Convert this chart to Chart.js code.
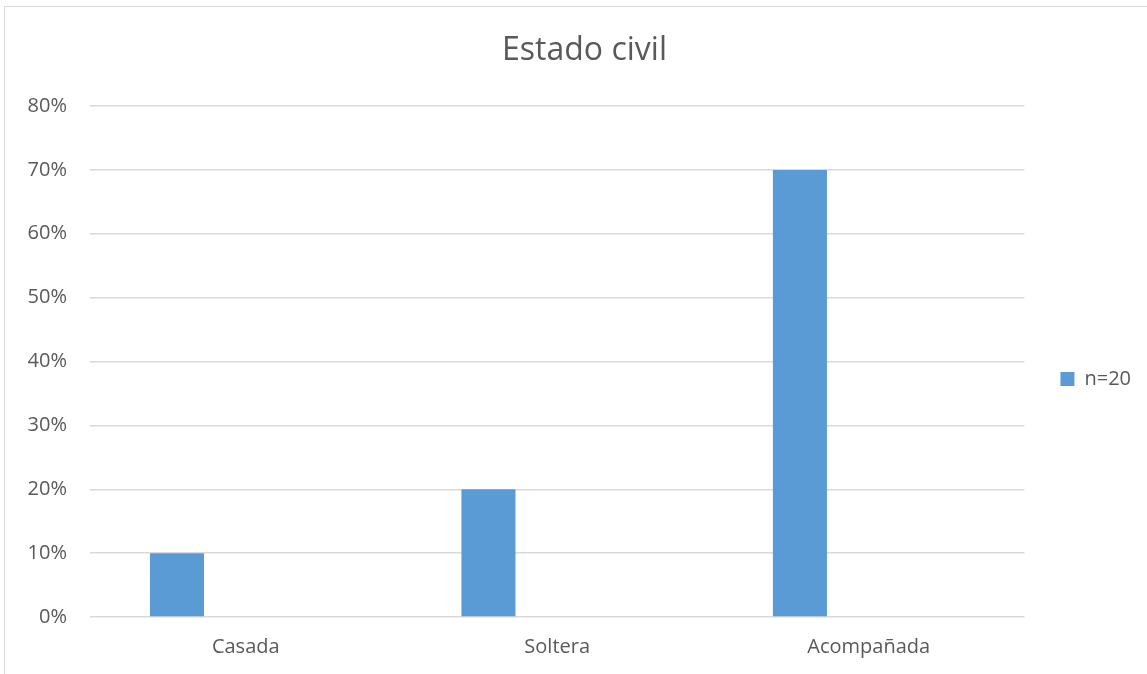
<!DOCTYPE html>
<html>
<head>
<meta charset="utf-8">
<script src="https://cdn.jsdelivr.net/npm/chart.js@4/dist/chart.umd.min.js"></script>
<style>
  html,body{margin:0;padding:0;background:#fff;overflow:hidden;}
  #wrap{position:relative;width:1147px;height:674px;}
  #frame{position:absolute;left:4px;top:6px;width:1200px;height:700px;border:1px solid #d9d9d9;pointer-events:none;}
  canvas{position:absolute;left:0;top:0;}
</style>
</head>
<body>
<div id="wrap">
  <div id="frame"></div>
  <canvas id="c" width="1147" height="674"></canvas>
</div>
<script>
const categories = ['Casada', 'Soltera', 'Acompañada'];
const seriesName = 'n=20';
const seriesValues = [10, 20, 70];
const emptySeries = [null, null, null];
const yTicks = [0, 10, 20, 30, 40, 50, 60, 70, 80];

const textColor = '#595959';
const fontFamily = '"Open Sans", "Noto Sans", sans-serif';

new Chart(document.getElementById('c'), {
  type: 'bar',
  data: {
    labels: categories,
    datasets: [
      { label: seriesName, data: seriesValues, backgroundColor: '#5B9BD5', borderWidth: 0,
        categoryPercentage: 0.883, barPercentage: 0.393 },
      { label: '', data: emptySeries, backgroundColor: '#ED7D31', borderWidth: 0,
        categoryPercentage: 0.883, barPercentage: 0.393 }
    ]
  },
  options: {
    responsive: false,
    animation: false,
    layout: { padding: { left: 28, right: 6, top: 32, bottom: 15 } },
    plugins: {
      title: {
        display: true, text: 'Estado civil', color: textColor,
        font: { family: fontFamily, size: 32, weight: 'normal', lineHeight: 1.2 },
        padding: { top: 0, bottom: 35.6 }
      },
      legend: {
        position: 'right',
        title: {
          display: true, text: ' ',
          font: { family: fontFamily, size: 10, lineHeight: 1.2 },
          padding: { top: 0, bottom: 55 }
        },
        labels: {
          filter: (item) => item.datasetIndex === 0,
          boxWidth: 14, boxHeight: 14, color: textColor, padding: 6,
          font: { family: fontFamily, size: 20 }
        }
      },
      tooltip: { enabled: false }
    },
    scales: {
      x: {
        afterFit: (s) => { s.height = 42; },
        grid: { display: false, drawTicks: false },
        border: { display: false },
        ticks: { color: textColor, font: { family: fontFamily, size: 20 }, padding: 18 }
      },
      y: {
        min: 0, max: 80,
        afterBuildTicks: (s) => { s.ticks = yTicks.map(v => ({ value: v })); },
        afterFit: (s) => { s.width = 62; },
        grid: { color: '#d9d9d9', lineWidth: 1.5, drawTicks: false },
        border: { display: false },
        ticks: { color: textColor, font: { family: fontFamily, size: 20 }, padding: 23,
                 callback: (v) => v + '%' }
      },
      gap: {
        type: 'linear', position: 'right', display: true,
        afterFit: (s) => { s.width = 30; },
        grid: { display: false, drawTicks: false },
        border: { display: false },
        ticks: { display: false }
      }
    }
  }
});
</script>
</body>
</html>
